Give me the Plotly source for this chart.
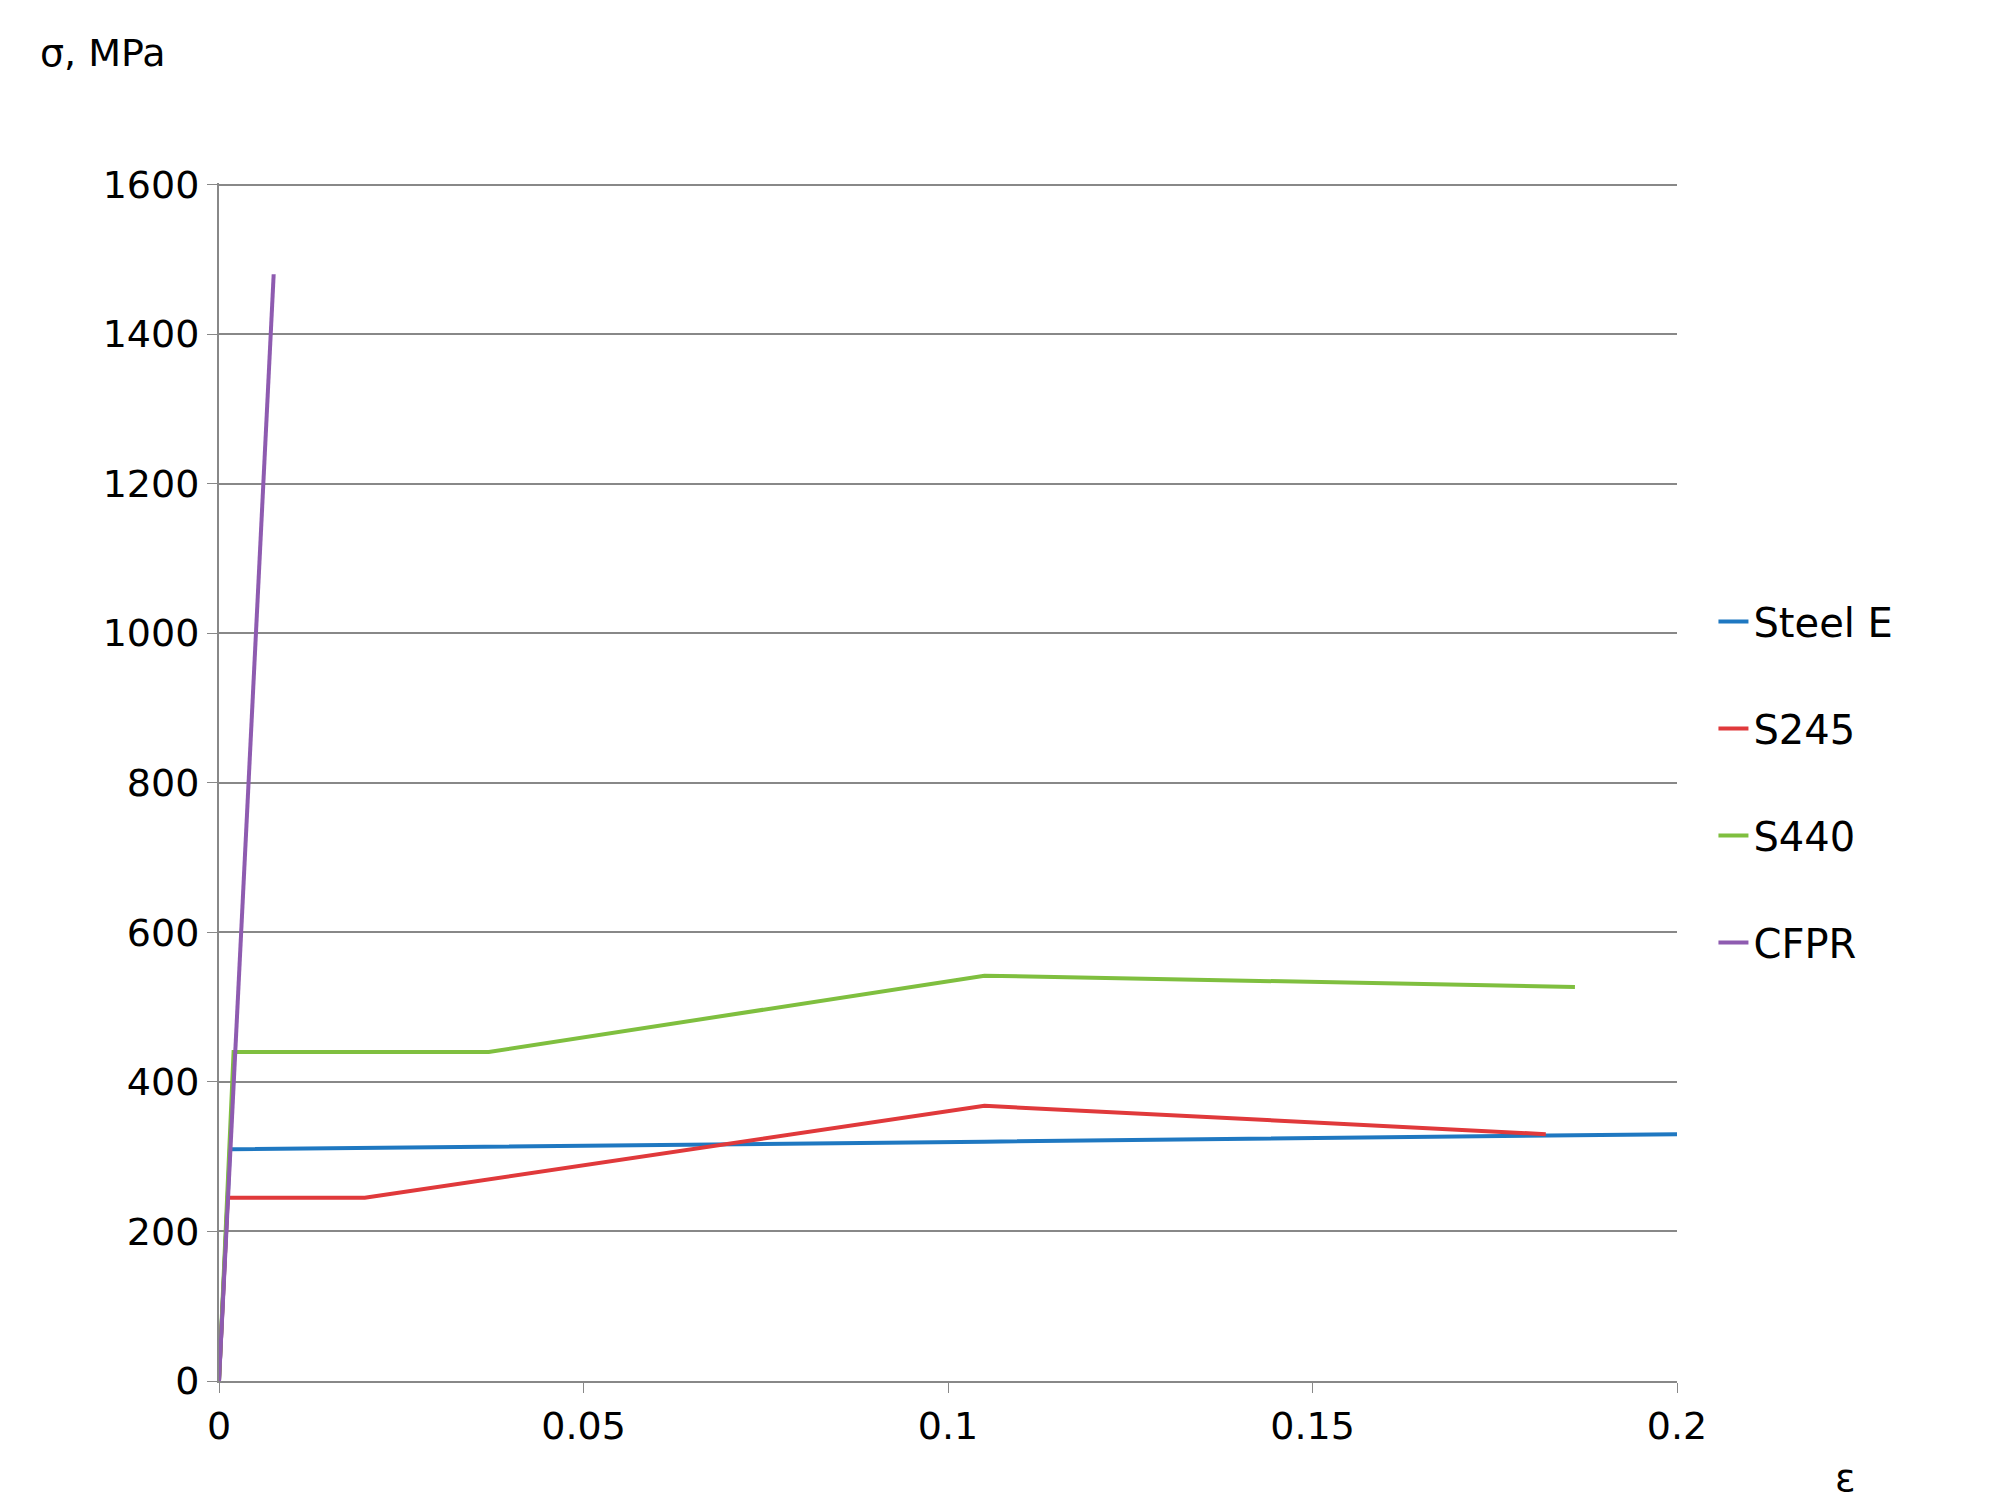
import plotly.graph_objects as go

steel_x = [0, 0.0015, 0.105, 0.2]
steel_y = [0, 310, 320, 330]
s245_x = [0, 0.0012, 0.02, 0.105, 0.182]
s245_y = [0, 245, 245, 368, 330]
s440_x = [0, 0.002, 0.037, 0.105, 0.186]
s440_y = [0, 440, 440, 542, 527]
cfpr_x = [0, 0.0075]
cfpr_y = [0, 1480]

names = ["Steel E", "S245", "S440", "CFPR"]
colors = ["#1f78c1", "#e0393b", "#7fbf3f", "#8e5bb0"]
series = [(steel_x, steel_y), (s245_x, s245_y), (s440_x, s440_y), (cfpr_x, cfpr_y)]

fig = go.Figure()
for (x, y), n, c in zip(series, names, colors):
    fig.add_trace(go.Scatter(x=x, y=y, mode="lines", name=n, legendgroup=n,
                             line=dict(color=c, width=4)))

font = dict(family="DejaVu Sans", size=38, color="black")
fig.update_layout(
    width=2008, height=1499, plot_bgcolor="white", paper_bgcolor="white",
    margin=dict(l=211, r=339, t=175, b=126),
    font=font,
    legend=dict(x=1.025, y=0.50, xanchor="left", yanchor="middle",
                tracegroupgap=52, font=dict(family="DejaVu Sans", size=40)),
    xaxis=dict(range=[0, 0.2], tickvals=[0, 0.05, 0.1, 0.15, 0.2],
               ticktext=["0", "0.05", "0.1", "0.15", "0.2"],
               showgrid=False, showline=True, linecolor="#888", linewidth=2,
               ticks="outside", tickcolor="#888", ticklen=10, zeroline=False),
    yaxis=dict(range=[0, 1602], tickvals=[0, 200, 400, 600, 800, 1000, 1200, 1400, 1600],
               showgrid=True, gridcolor="#888",
               gridwidth=2, showline=True, linecolor="#888", linewidth=2,
               ticks="outside", tickcolor="#888", ticklen=10, zeroline=False),
    annotations=[
        dict(text="σ, MPa", showarrow=False, font=font, xanchor="left", yanchor="middle",
             xref="paper", yref="paper", x=0, y=0),
        dict(text="ε", showarrow=False, font=font, xanchor="center", yanchor="middle",
             xref="paper", yref="paper", x=0, y=0),
    ],
)
W = 2008 - 211 - 339
H = 1499 - 175 - 126
fig.layout.annotations[0].update(x=(30 - 211) / W, y=(1499 - 126 - 45) / H)
fig.layout.annotations[1].update(x=(1838 - 211) / W, y=(1499 - 126 - 1470) / H)
fig.write_html("out.html")
